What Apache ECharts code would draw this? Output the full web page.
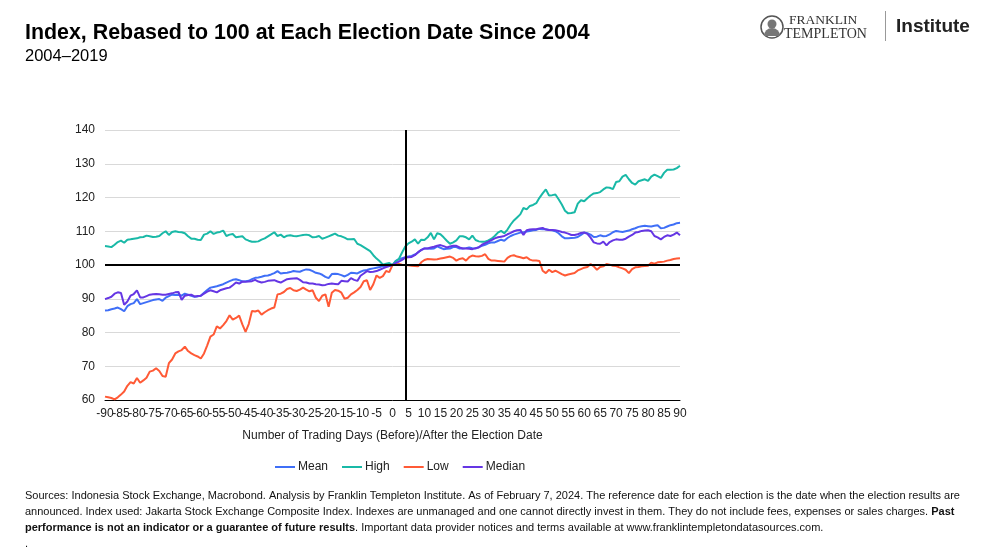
<!DOCTYPE html>
<html><head><meta charset="utf-8">
<script src="https://cdn.jsdelivr.net/npm/echarts@6/dist/echarts.min.js"></script>
<style>html,body{margin:0;padding:0;background:#fff;}#c{width:993px;height:550px;}</style>
</head><body><div id="c"></div>
<script>
const days = Array.from({length:181}, (_, i) => i - 90);
const seriesNames = ['Mean', 'High', 'Low', 'Median'];
const yTicks = { min: 60, max: 140, step: 10 };
const xTicks = { min: -90, max: 90, step: 5 };
const refLevel = 100;
const electionLineDay = 4.2;

const high = [
105.6,105.5,105.3,106,106.8,107.2,106.6,107.5,107.6,107.8,
107.9,108.2,108.3,108.7,108.5,108.3,108.4,108.6,109.4,110,
108.9,109.8,110,109.8,109.7,109.4,108.5,107.8,107.8,107.5,
107.4,109,109.3,110,109.2,109.6,109.8,110.2,108.6,109,
109.2,108.2,108.4,108.5,107.6,107.2,106.9,106.9,107,107.5,
107.9,108.5,109.1,109.7,108.6,109,108.2,108.7,108.8,108.6,
108.5,108.7,108.9,109,108.8,108.2,108.3,108.6,107.8,108.1,
108.5,108.9,109.3,108.7,108.5,108.1,107.6,107.6,107.7,106.3,
105.9,105.3,104.7,104.1,102.9,101.9,101.1,100.1,100.4,100.6,
100,
101.1,101.8,103.7,105.5,106.4,106.9,107.6,106.3,107.5,107.4,
108.2,109.5,107.6,109.4,109.1,108.2,107.2,106.3,106.7,107.3,
108.5,108.5,108.2,107.6,108.7,107.4,107,106.9,106.9,107.3,
107.8,108.6,109.6,110.1,109.4,110.5,112,113.2,114.1,115,
116.9,116.5,117.5,117.8,118.3,119.9,121.2,122.4,120.6,120.7,
120.9,119.5,117.9,116.1,115.3,115.4,115.6,118.2,119.2,118.9,
119.8,120.6,121.2,121.3,121.6,122.4,123,122.9,122.5,124.6,
124.8,126.2,126.7,125.4,124.3,123.8,124.8,125.1,125.4,124.9,
126.2,126.8,126.3,125.8,127.3,128.2,128.2,128.3,128.7,129.4
];

const mean = [
86.5,86.6,86.9,87.1,87.4,86.9,86.3,87.8,88.4,88.7,
89.9,88.4,88.7,89,89.3,89.6,89.8,89.9,89.4,90.3,
90.8,91.2,91.1,91.2,90.9,91.5,91.2,90.9,90.6,90.7,
90.9,91.8,92.6,93.3,93.5,93.7,94,94.3,94.8,95.2,
95.6,95.8,95.5,95.1,95.2,95.3,95.8,96.2,96.3,96.5,
96.8,96.9,97.2,97.6,98.2,97.5,97.6,97.7,97.9,98.2,
98.1,98,98.4,98.7,98.6,98.2,97.7,97.5,97.1,96.5,
96.1,97.3,97.4,97.3,97,96.6,97.1,97.7,97.6,97.5,
98,98.4,98.5,98.8,99,99.2,99.4,99.7,99.6,99.7,
100,
101.2,101.7,102,102.3,102.5,102.7,103.1,103.7,104.5,104.9,
104.9,104.8,104.9,105.5,105.1,104.7,104.8,104.9,105.3,105.3,
104.9,104.9,105,105.2,105,104.9,105.3,105.7,106,106.4,
106.7,106.7,107.1,107.5,107.2,108,108.6,109,109.3,109.6,
109.7,109.9,110.1,110.3,110.4,110.7,110.6,110.6,110.4,110.3,
110,109.4,108.5,107.9,107.9,108,108.1,108.3,108.9,109.6,
109.4,109,108.3,108.4,108.8,108.5,108.6,109.1,109.7,110.1,
109.9,109.8,110,110.2,110.6,110.9,111.3,111.5,111.6,111.5,
111.4,111.6,111.8,110.9,111,111.4,111.8,112,112.4,112.5
];

const low = [
61,60.8,60.6,60.2,60.8,61.6,62.5,64.2,65.3,64.9,
66.5,65.1,65.8,66.6,68.4,68.7,69.4,68.6,67.1,66.9,
70.9,72,73.8,74.4,74.8,75.8,74.5,73.8,73.3,72.9,
72.3,73.8,76.2,78.8,79.4,81.8,81.2,82.2,83.4,85.1,
83.8,84.3,85,82.4,80.2,82.5,86.4,86.2,86.5,85.3,
86,86.6,87.1,87.4,91.3,91.5,92,92.9,93.2,92.5,
92.3,92.7,93.3,92.7,92.2,92.5,90.3,89.3,90.9,91.3,
87.6,91.8,92.6,92.4,91.8,90,90.3,91.3,91.9,92.6,
93.5,95.2,95.5,92.6,94.3,96.9,96.2,96.7,98.2,97.9,
100,
100.2,100.3,100.1,100,99.9,99.8,99.7,99.6,100.8,101.5,
101.8,101.7,101.6,101.7,101.9,102.1,102.3,102.5,102.1,101.3,
101.8,102,101.3,102.3,102.8,102.6,102.5,102.7,103.2,101.8,
101.3,101.3,101.2,101.1,101,102.1,102.7,102.9,102.5,102.3,
102,102.3,101.6,101.3,101.3,101.2,98.3,97.6,98.6,97.9,
98.3,97.8,97.3,96.9,97.2,97.4,97.6,98.4,98.8,99.2,
99.4,100.3,99.6,98.6,99.4,99.6,100.3,100.1,99.8,99.7,
99.3,99,98.6,97.6,98.8,99.3,99.4,99.6,99.7,99.8,
100.7,100.4,100.8,100.9,101,101.3,101.5,101.8,101.9,102
];

const median = [
89.9,90.2,90.6,91.5,91.9,91.7,88.2,89.2,90.9,91.4,
92.5,90.4,90.4,90.8,91.2,91.3,91.4,91.3,91.2,91.2,
91.4,91.6,91.9,92,89.7,90.9,91.1,91.2,90.7,90.8,
90.9,91.5,92.1,92.5,92.2,91.9,92.5,92.8,93.1,93.3,
94,94.8,94.5,95.1,95,95.1,95.2,95.6,95.1,94.8,
95,95.3,95.4,95.5,95.1,94.8,95.3,95.8,95.9,96,
96.1,95.6,94.9,94.8,94.5,94.5,94.3,94.2,94,94.1,
94.4,94.5,94.4,94.3,95.3,95.2,95.1,96.1,95.6,95.3,
96.8,97.5,98.2,97.9,98,98.2,98.6,99,99.4,99.7,
100,
100.6,101,101.5,102.2,102.3,102.4,102.9,103.8,104.4,104.9,
104.9,105.2,105.4,105.7,105.9,105.6,105.2,105.5,105.7,105.7,
105.2,104.9,104.9,104.8,104.7,105,105.2,106,106.5,106.9,
107.4,107.9,108.2,108.4,108.6,109.1,109.5,110,110.3,110.4,
108.9,110.3,110.5,110.6,110.6,110.8,111,110.5,110.4,110.4,
110.3,110.1,109.8,109.6,109.3,108.9,108.9,109.1,109.5,109.6,
109.2,108.1,106.7,106.4,106.3,106.9,105.8,106.8,107.3,107.6,
107.5,107.5,107.8,108.4,108.9,109.6,109.8,110.1,110.2,110.3,
110,108.6,108.2,107.6,108.3,108.8,108.6,109,109.6,108.8
];

const colors = { Mean: '#3f6ff7', High: '#19b9a7', Low: '#ff5a36', Median: '#6536e4' };
const valuesByName = { Mean: mean, High: high, Low: low, Median: median };

const FONT = '"Liberation Sans", Arial, Helvetica, sans-serif';
const chart = echarts.init(document.getElementById('c'), null, { renderer: 'canvas' });

const series = seriesNames.map((name, k) => ({
  name,
  type: 'line',
  xAxisIndex: 0,
  data: days.map((d, i) => [d, valuesByName[name][i]]),
  showSymbol: false,
  symbol: 'none',
  smooth: false,
  lineStyle: { color: colors[name], width: 2 },
  itemStyle: { color: colors[name] },
  z: 3 + k,
  emphasis: { disabled: true },
  markLine: k === 0 ? {
    silent: true,
    symbol: ['none', 'none'],
    label: { show: false },
    lineStyle: { color: '#000', width: 2, type: 'solid' },
    data: [{ yAxis: refLevel }, { xAxis: electionLineDay }],
    z: 10
  } : undefined
}));

const footStyle = { fontFamily: FONT, fontSize: 11, fill: '#111' };
const footBold = { fontFamily: FONT, fontSize: 11, fill: '#111', fontWeight: 'bold' };
const xLabelStyle = { fontFamily: FONT, fontSize: 12, color: '#222', margin: 8, hideOverlap: false };

chart.setOption({
  animation: false,
  backgroundColor: '#fff',
  textStyle: { fontFamily: FONT },
  grid: { left: 105, right: 313, top: 130, height: 270, containLabel: false },
  xAxis: [{
    type: 'value',
    min: xTicks.min, max: xTicks.max, interval: xTicks.step,
    position: 'bottom',
    name: 'Number of Trading Days (Before)/After the Election Date',
    nameLocation: 'middle',
    nameGap: 30,
    nameTextStyle: { fontFamily: FONT, fontSize: 12, color: '#222' },
    axisLine: { show: true, lineStyle: { color: '#000', width: 1 } },
    axisTick: { show: false },
    splitLine: { show: false },
    axisLabel: { ...xLabelStyle, showMinLabel: false, showMaxLabel: true }
  }, {
    // companion axis only to print the first tick label (-90) without hiding -85
    type: 'value',
    min: xTicks.min, max: xTicks.max, interval: xTicks.max - xTicks.min,
    position: 'bottom',
    axisLine: { show: false },
    axisTick: { show: false },
    splitLine: { show: false },
    axisLabel: { ...xLabelStyle, showMinLabel: true, showMaxLabel: false }
  }],
  yAxis: {
    type: 'value',
    min: yTicks.min, max: yTicks.max, interval: yTicks.step,
    axisLine: { show: false },
    axisTick: { show: false },
    splitLine: { show: true, lineStyle: { color: '#d9d9d9', width: 1 } },
    axisLabel: { fontFamily: FONT, fontSize: 12, color: '#222', margin: 10 }
  },
  legend: {
    data: seriesNames,
    left: 270, top: 456,
    icon: 'rect',
    itemWidth: 20, itemHeight: 2,
    itemGap: 14,
    textStyle: { fontFamily: FONT, fontSize: 12, color: '#222', padding: [0, 0, 0, -2] },
    selectedMode: false
  },
  series,
  graphic: [
    { type: 'text', left: 25, top: 23, style: { text: 'Index, Rebased to 100 at Each Election Date Since 2004', fontFamily: FONT, fontSize: 21.4, fontWeight: 'bold', fill: '#000' } },
    { type: 'text', left: 25, top: 48, style: { text: '2004–2019', fontFamily: FONT, fontSize: 16.5, fill: '#000' } },
    // logo
    { type: 'circle', shape: { cx: 772, cy: 27, r: 11 }, style: { fill: '#fff', stroke: '#555', lineWidth: 1.5 } },
    { type: 'circle', shape: { cx: 772, cy: 24, r: 4.5 }, style: { fill: '#777' } },
    { type: 'sector', shape: { cx: 772, cy: 36, r: 8, r0: 0, startAngle: Math.PI, endAngle: 2 * Math.PI }, style: { fill: '#777' } },
    { type: 'text', left: 789, top: 13, style: { text: 'FRANKLIN', fontFamily: '"Liberation Serif", "DejaVu Serif", serif', fontSize: 13.5, fill: '#333' } },
    { type: 'text', left: 784, top: 27, style: { text: 'TEMPLETON', fontFamily: '"Liberation Serif", "DejaVu Serif", serif', fontSize: 14, fill: '#333' } },
    { type: 'rect', shape: { x: 885, y: 11, width: 1, height: 30 }, style: { fill: '#999' } },
    { type: 'text', left: 896, top: 17, style: { text: 'Institute', fontFamily: FONT, fontSize: 19, fontWeight: 'bold', fill: '#222' } },
    // footnote
    { type: 'text', left: 25, top: 490, style: { text: 'Sources: Indonesia Stock Exchange, Macrobond. Analysis by Franklin Templeton Institute. As of February 7, 2024. The reference date for each election is the date when the election results are', ...footStyle } },
    { type: 'text', left: 25, top: 506, style: { text: '{n|announced. Index used: Jakarta Stock Exchange Composite Index. Indexes are unmanaged and one cannot directly invest in them. They do not include fees, expenses or sales charges. }{b|Past}', rich: { n: footStyle, b: footBold }, ...footStyle } },
    { type: 'text', left: 25, top: 522, style: { text: '{b|performance is not an indicator or a guarantee of future results}{n|. Important data provider notices and terms available at www.franklintempletondatasources.com.}', rich: { n: footStyle, b: footBold }, ...footStyle } },
    { type: 'text', left: 25, top: 538, style: { text: '.', ...footStyle } }
  ]
});
</script>
</body></html>
